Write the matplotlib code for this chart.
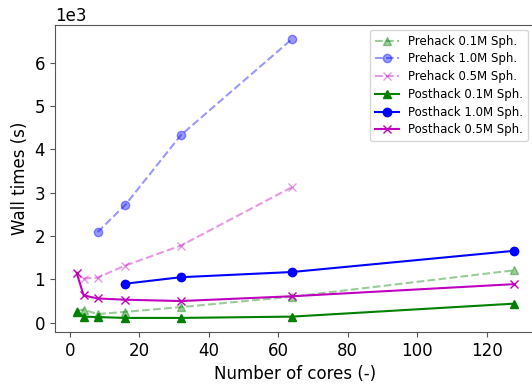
import numpy as np
import matplotlib.pyplot as plt

# wall times in seconds
pre_01_cores = [2, 4, 8, 16, 32, 64, 128]
pre_01_time = [280, 300, 200, 250, 360, 600, 1210]
pre_10_cores = [8, 16, 32, 64]
pre_10_time = [2090, 2720, 4330, 6550]
pre_05_cores = [4, 8, 16, 32, 64]
pre_05_time = [1020, 1040, 1320, 1780, 3130]

post_01_cores = [2, 4, 8, 16, 32, 64, 128]
post_01_time = [240, 140, 130, 110, 110, 140, 440]
post_10_cores = [16, 32, 64, 128]
post_10_time = [900, 1050, 1170, 1660]
post_05_cores = [2, 4, 8, 16, 32, 64, 128]
post_05_time = [1150, 630, 560, 530, 500, 610, 890]

fig = plt.figure(figsize=(5.32, 3.85), dpi=100)
# axes run past the right edge of the figure, like the cropped original
ax = fig.add_axes([0.103, 0.138, 0.905, 0.797])

ax.plot(pre_01_cores, pre_01_time, 'g^--', alpha=0.4, label='Prehack 0.1M Sph.')
ax.plot(pre_10_cores, pre_10_time, 'bo--', alpha=0.4, label='Prehack 1.0M Sph.')
ax.plot(pre_05_cores, pre_05_time, 'mx--', alpha=0.4, label='Prehack 0.5M Sph.')
ax.plot(post_01_cores, post_01_time, 'g^-', label='Posthack 0.1M Sph.')
ax.plot(post_10_cores, post_10_time, 'bo-', label='Posthack 1.0M Sph.')
ax.plot(post_05_cores, post_05_time, 'mx-', label='Posthack 0.5M Sph.')

ax.ticklabel_format(axis='y', style='sci', scilimits=(3, 3))
ax.yaxis.get_offset_text().set_fontsize(12)
ax.tick_params(labelsize=12, color='#555555')
for s in ax.spines.values():
    s.set_color('#555555')
ax.set_xlabel('Number of cores (-)', fontsize=12)
ax.set_ylabel('Wall times (s)', fontsize=12)
ax.legend(loc='upper right', fontsize=8.5, handlelength=2.0, labelspacing=0.4,
          bbox_to_anchor=(0.992, 0.922), bbox_transform=fig.transFigure,
          borderaxespad=0)

plt.savefig('out.png')
